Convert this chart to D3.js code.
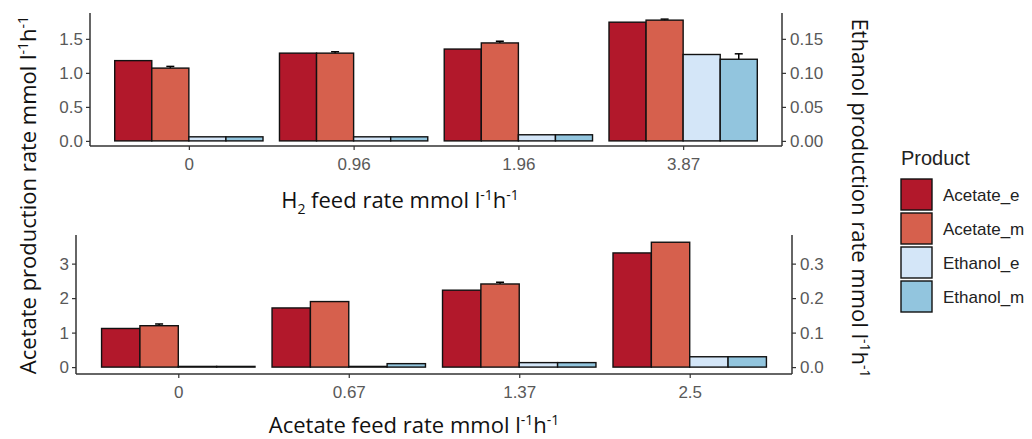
<!DOCTYPE html>
<html>
<head>
<meta charset="utf-8">
<style>
    body { margin: 0; background: white; }
    svg { display: block; }
    .tick text { font-family: 'Liberation Sans', Arial, sans-serif; font-size: 17px; fill: #595959; }
    .tick line { stroke: #333; stroke-width: 1.2; }
    .domain { stroke: #333; stroke-width: 1.5; }
    .title { font-family: 'Open Sans', sans-serif; font-size: 22px; fill: #111; }
    .legend text { font-family: 'Liberation Sans', Arial, sans-serif; }
</style>
</head>
<body>
<svg width="1032" height="439"></svg>

<script src="https://d3js.org/d3.v7.min.js"></script>
<script>
    // products / colours
    const products = ["Acetate_e", "Acetate_m", "Ethanol_e", "Ethanol_m"];
    const productColors = ["#b2182b", "#d6604d", "#d4e6f8", "#92c5de"];

    // top panel: H2 feed
    const h2Feed = ["0", "0.96", "1.96", "3.87"];
    const h2AcetateE = [1.18, 1.29, 1.35, 1.745];
    const h2AcetateM = [1.07, 1.29, 1.44, 1.775];
    const h2AcetateMErr = [0.025, 0.02, 0.025, 0.015];
    const h2EthanolE = [0.006, 0.006, 0.009, 0.127];
    const h2EthanolM = [0.006, 0.006, 0.009, 0.120];
    const h2EthanolMErr = [0, 0, 0, 0.008];
    const h2LeftTicks = [0, 0.5, 1.0, 1.5];
    const h2RightTicks = [0, 0.05, 0.10, 0.15];

    // bottom panel: acetate feed
    const acFeed = ["0", "0.67", "1.37", "2.5"];
    const acAcetateE = [1.12, 1.715, 2.23, 3.31];
    const acAcetateM = [1.20, 1.90, 2.41, 3.62];
    const acAcetateMErr = [0.05, 0, 0.05, 0];
    const acEthanolE = [0.002, 0.002, 0.013, 0.030];
    const acEthanolM = [0.002, 0.010, 0.013, 0.030];
    const acLeftTicks = [0, 1, 2, 3];
    const acRightTicks = [0, 0.1, 0.2, 0.3];

    const svg = d3.select("svg");

    function drawPanel(p) {
        let g = svg.append("g");

        let x = d3.scalePoint()
            .domain(p.cats)
            .range([p.left, p.right])
            .padding(0.6);

        let y = d3.scaleLinear().domain(p.yDomain).range([p.bottom, p.top]);
        let y2 = d3.scaleLinear().domain(p.yDomain.map(v => v / 10)).range([p.bottom, p.top]);

        let groupW = x.step() * 0.9;
        let inner = d3.scaleBand().domain(products).range([-groupW / 2, groupW / 2]);

        let rows = [];
        p.cats.forEach((c, i) => {
            rows.push({ cat: c, prod: products[0], v: p.ae[i], err: 0, sc: y });
            rows.push({ cat: c, prod: products[1], v: p.am[i], err: p.amErr[i], sc: y });
            rows.push({ cat: c, prod: products[2], v: p.ee[i], err: 0, sc: y2 });
            rows.push({ cat: c, prod: products[3], v: p.em[i], err: p.emErr[i], sc: y2 });
        });

        // error bars first, bars sit over the lower half
        g.selectAll(".err")
            .data(rows.filter(d => d.err > 0))
            .join("g")
            .each(function (d) {
                let cx = x(d.cat) + inner(d.prod) + inner.bandwidth() / 2;
                let e = d3.select(this);
                e.append("line")
                    .attr("x1", cx).attr("x2", cx)
                    .attr("y1", d.sc(d.v - d.err)).attr("y2", d.sc(d.v + d.err))
                    .style("stroke", "black").style("stroke-width", 1.5);
                e.append("line")
                    .attr("x1", cx - 4).attr("x2", cx + 4)
                    .attr("y1", d.sc(d.v + d.err)).attr("y2", d.sc(d.v + d.err))
                    .style("stroke", "black").style("stroke-width", 1.5);
            });

        g.selectAll(".bar")
            .data(rows)
            .join("rect")
            .attr("x", d => x(d.cat) + inner(d.prod))
            .attr("width", inner.bandwidth())
            .attr("y", d => d.sc(d.v))
            .attr("height", d => d.sc(0) - d.sc(d.v))
            .style("fill", d => productColors[products.indexOf(d.prod)])
            .style("stroke", "#111")
            .style("stroke-width", 1.4);

        let xAxis = g.append("g")
            .attr("transform", "translate(0," + p.bottom + ")")
            .call(d3.axisBottom(x).tickSize(4).tickSizeOuter(0).tickPadding(8));
        xAxis.select(".domain").attr("d", "M" + p.left + ",0H" + p.right);

        let yAxis = g.append("g")
            .attr("transform", "translate(" + p.left + ",0)")
            .call(d3.axisLeft(y).tickValues(p.lTicks).tickFormat(d3.format(p.lFmt)).tickSize(4).tickSizeOuter(0).tickPadding(3));
        yAxis.select(".domain").attr("d", "M0," + p.top + "V" + p.bottom);

        let yAxis2 = g.append("g")
            .attr("transform", "translate(" + p.right + ",0)")
            .call(d3.axisRight(y2).tickValues(p.rTicks).tickFormat(d3.format(p.rFmt)).tickSize(4).tickSizeOuter(0).tickPadding(4));
        yAxis2.select(".domain").attr("d", "M0," + p.top + "V" + p.bottom);

        // x title
        let t = g.append("text")
            .attr("class", "title")
            .attr("x", p.titleX)
            .attr("y", p.titleY)
            .attr("text-anchor", "middle");
        p.title(t);
    }

    function unitTail(t) {
        t.append("tspan").text(" rate mmol l");
        t.append("tspan").attr("dy", -8).style("font-size", "14px").text("-1");
        t.append("tspan").attr("dy", 8).text("h");
        t.append("tspan").attr("dy", -8).style("font-size", "14px").text("-1");
    }

    drawPanel({
        cats: h2Feed, left: 90, right: 782, top: 13, bottom: 146,
        yDomain: [-0.075, 1.88],
        ae: h2AcetateE, am: h2AcetateM, amErr: h2AcetateMErr,
        ee: h2EthanolE, em: h2EthanolM, emErr: h2EthanolMErr,
        lTicks: h2LeftTicks, rTicks: h2RightTicks, lFmt: ".1f", rFmt: ".2f",
        titleX: 400, titleY: 208,
        title: t => {
            t.append("tspan").text("H");
            t.append("tspan").attr("dy", 6).style("font-size", "14px").text("2");
            t.append("tspan").attr("dy", -6).text(" feed");
            unitTail(t);
        }
    });

    drawPanel({
        cats: acFeed, left: 76, right: 792, top: 235, bottom: 374,
        yDomain: [-0.2, 3.83],
        ae: acAcetateE, am: acAcetateM, amErr: acAcetateMErr,
        ee: acEthanolE, em: acEthanolM, emErr: [0, 0, 0, 0],
        lTicks: acLeftTicks, rTicks: acRightTicks, lFmt: "d", rFmt: ".1f",
        titleX: 414, titleY: 433,
        title: t => {
            t.append("tspan").text("Acetate feed");
            unitTail(t);
        }
    });

    // side titles
    let lt = svg.append("text")
        .attr("class", "title")
        .attr("transform", "translate(36,195) rotate(-90)")
        .attr("text-anchor", "middle");
    lt.append("tspan").text("Acetate production");
    unitTail(lt);

    let rt = svg.append("text")
        .attr("class", "title")
        .attr("transform", "translate(852,198) rotate(90)")
        .attr("text-anchor", "middle");
    rt.append("tspan").text("Ethanol production");
    unitTail(rt);

    // legend
    let legend = svg.append("g").attr("class", "legend").attr("transform", "translate(901,0)");
    legend.append("text")
        .attr("x", 0).attr("y", 165)
        .style("font-size", "20px").style("fill", "#222")
        .text("Product");

    let keys = legend.selectAll(".key")
        .data(products)
        .join("g")
        .attr("transform", (d, i) => "translate(0," + (179 + i * 34) + ")");

    keys.append("rect")
        .attr("width", 31).attr("height", 31)
        .style("fill", (d, i) => productColors[i])
        .style("stroke", "#111")
        .style("stroke-width", 1.4);

    keys.append("text")
        .attr("x", 42).attr("y", 16).attr("dy", "0.35em")
        .style("font-size", "17px").style("fill", "#222")
        .text(d => d);
</script>
</body>
</html>
